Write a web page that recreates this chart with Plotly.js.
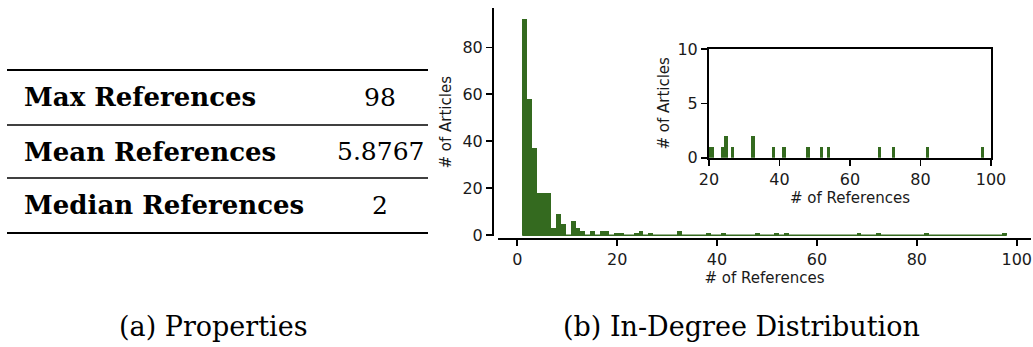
<!DOCTYPE html>
<html>
<head>
<meta charset="utf-8">
<script src="https://cdn.plot.ly/plotly-3.0.1.min.js"></script>
<style>html,body{margin:0;padding:0;background:#fff}#chart{width:1033px;height:347px}</style>
</head>
<body>
<div id="chart"></div>
<script>
// ---- data ----
const refValues   = [1, 2, 3, 4, 5, 6, 7, 8, 9, 11, 12, 13, 15, 17, 18, 20, 21, 24, 25, 27, 33, 38, 41, 48, 52, 54, 68, 72, 82, 98];
const articleCounts = [92, 58, 37, 18, 18, 18, 3, 9, 5, 6, 3, 2, 2, 2, 2, 1, 1, 1, 2, 1, 2, 1, 1, 1, 1, 1, 1, 1, 1, 1];
const tableLabels = ["Max References", "Mean References", "Median References"];
const tableValues = ["98", "5.8767", "2"];
const captions    = ["(a) Properties", "(b) In-Degree Distribution"];
const mainXTicks  = [0, 20, 40, 60, 80, 100];
const mainYTicks  = [0, 20, 40, 60, 80];
const insetXTicks = [20, 40, 60, 80, 100];
const insetYTicks = [0, 5, 10];
const insetMin = 20;
const nBins = 100;

// ---- histogram binning (as matplotlib hist with 100 bins between min and max) ----
const vMin = Math.min(...refValues), vMax = Math.max(...refValues);
const binW = (vMax - vMin) / nBins;
const binMap = {};
refValues.forEach((v, i) => {
  const k = Math.min(Math.floor((v - vMin) / binW + 1e-9), nBins - 1);
  binMap[k] = (binMap[k] || 0) + articleCounts[i];
});
const binKeys = Object.keys(binMap).map(Number).sort((a, b) => a - b);
const binLeft = binKeys.map(k => vMin + k * binW);
const binCount = binKeys.map(k => binMap[k]);
const insetLeft = [], insetCount = [];
binLeft.forEach((l, i) => { if (l + binW > insetMin) { insetLeft.push(l); insetCount.push(binCount[i]); } });

const W = 1033, H = 347;
const px = x => x / W, py = y => 1 - y / H;
const green = '#346a1f';
const tickFont = {family: 'DejaVu Sans', size: 16, color: '#1a1a1a'};
const titleFont = {family: 'DejaVu Sans', size: 15, color: '#1a1a1a'};

const traces = [
  {type: 'scatter', mode: 'lines', x: [vMin, vMax], y: [0, 0], xaxis: 'x', yaxis: 'y',
   line: {color: green, width: 1.3}, hoverinfo: 'skip', showlegend: false},
  {type: 'bar', x: binLeft, y: binCount, width: binW, offset: 0, xaxis: 'x', yaxis: 'y',
   marker: {color: green, line: {width: 0}}, showlegend: false},
  {type: 'bar', x: insetLeft, y: insetCount, width: binW, offset: 0, xaxis: 'x2', yaxis: 'y2',
   marker: {color: green, line: {width: 0}}, showlegend: false}
];

const axBase = {showgrid: false, zeroline: false, showline: true, linecolor: '#000', linewidth: 2,
  ticks: 'outside', ticklen: 6, tickwidth: 1.6, tickcolor: '#000', tickfont: tickFont, fixedrange: true};

const annotations = [];
const rowY = [97.5, 151.5, 205.5];
tableLabels.forEach((t, i) => {
  annotations.push({xref: 'paper', yref: 'paper', x: px(22), y: py(rowY[i]), xanchor: 'left', yanchor: 'middle',
    text: '<b>' + t + '</b>', showarrow: false, font: {family: 'DejaVu Serif', size: 26, color: '#000'}});
  annotations.push({xref: 'paper', yref: 'paper', x: px(380), y: py(rowY[i]), xanchor: 'center', yanchor: 'middle',
    text: tableValues[i], showarrow: false, font: {family: 'DejaVu Serif', size: 25, color: '#000'}});
});
const capX = [213, 741];
captions.forEach((c, i) => {
  annotations.push({xref: 'paper', yref: 'paper', x: px(capX[i]), y: py(326), xanchor: 'center', yanchor: 'middle',
    text: c, showarrow: false, font: {family: 'DejaVu Serif', size: 27, color: '#000'}});
});

const ruleY = [70, 125, 178, 233];
const ruleW = [2.2, 1.3, 1.3, 2.2];
const shapes = ruleY.map((y, i) => ({type: 'line', xref: 'paper', yref: 'paper',
  x0: px(7), x1: px(428), y0: py(y), y1: py(y), line: {color: '#000', width: ruleW[i]}}));

const layout = {
  width: W, height: H, margin: {l: 0, r: 0, t: 0, b: 0},
  paper_bgcolor: '#fff', plot_bgcolor: 'rgba(0,0,0,0)', showlegend: false, bargap: 0,
  xaxis: Object.assign({}, axBase, {domain: [px(498), px(1031)], range: [-3.85, 102.85], anchor: 'free',
    position: py(238.7), tickvals: mainXTicks,
    title: {text: '# of References', font: titleFont, standoff: 0}}),
  yaxis: Object.assign({}, axBase, {domain: [py(236.2), py(8.3)], range: [-0.4, 96.6], anchor: 'free',
    position: px(493), tickvals: mainYTicks,
    title: {text: '# of Articles', font: titleFont, standoff: 6}}),
  xaxis2: Object.assign({}, axBase, {domain: [px(709), px(991)], range: [insetMin, 100], anchor: 'y2',
    mirror: true, tickvals: insetXTicks,
    title: {text: '# of References', font: titleFont, standoff: 1}}),
  yaxis2: Object.assign({}, axBase, {domain: [py(157.7), py(49)], range: [0, 10], anchor: 'x2',
    mirror: true, tickvals: insetYTicks,
    title: {text: '# of Articles', font: titleFont, standoff: 4}}),
  annotations: annotations,
  shapes: shapes
};

Plotly.newPlot('chart', traces, layout, {displayModeBar: false, staticPlot: true});
</script>
</body>
</html>
